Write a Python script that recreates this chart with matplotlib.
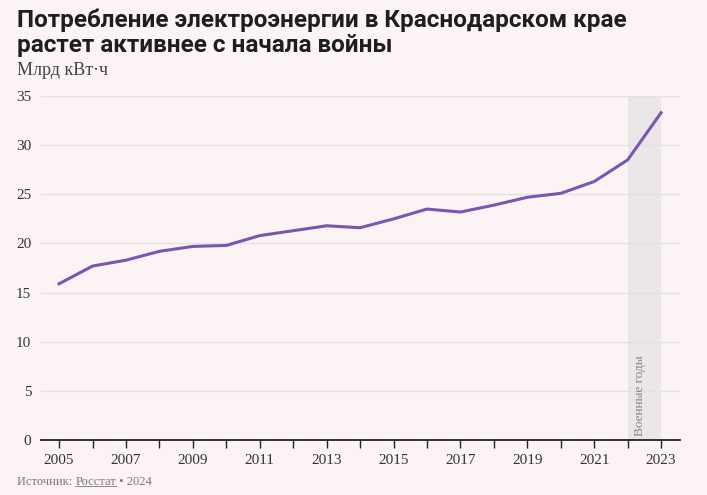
import matplotlib
matplotlib.use("Agg")
import matplotlib.pyplot as plt
from matplotlib.lines import Line2D

# данные: потребление электроэнергии, млрд кВт·ч
years = list(range(2005, 2024))
values = [15.9, 17.7, 18.3, 19.2, 19.7, 19.8, 20.8, 21.3, 21.8, 21.6,
          22.5, 23.5, 23.2, 23.9, 24.7, 25.1, 26.3, 28.5, 33.3]
yticks = [0, 5, 10, 15, 20, 25, 30, 35]
war_start, war_end = 2022, 2023

bg = "#fcf4f4"
purple = "#7b55b5"
serif = ["Liberation Serif", "DejaVu Serif"]

fig = plt.figure(figsize=(7.07, 4.95), dpi=100, facecolor=bg)
ax = fig.add_axes([0.058, 0.111, 0.904, 0.695], facecolor=bg)

ax.axvspan(war_start, war_end, ymin=0, ymax=1, color="#ebe6e7", lw=0, zorder=0)
for t in yticks[1:]:
    ax.axhline(t, color="#e6e0e1", lw=1, zorder=1)
ax.plot(years, values, color=purple, lw=2.2, solid_joinstyle="round", zorder=3)

ax.text(war_start + 0.38, 0.4, "Военные годы", rotation=90, ha="center", va="bottom",
        fontsize=9.5, color="#8a8585", family=serif)

ax.set_xlim(2004.46, 2023.57)
ax.set_ylim(0, 35)
ax.set_xticks(years)
ax.set_xticklabels([str(y) if y % 2 == 1 else "" for y in years])
ax.set_yticks(yticks)
ax.tick_params(axis="x", direction="out", length=6, width=1, color="#222222", pad=4,
               labelsize=11, labelcolor="#333333")
ax.tick_params(axis="y", length=0, pad=7, labelsize=11, labelcolor="#333333")
for lab in ax.get_xticklabels() + ax.get_yticklabels():
    lab.set_family(serif)

for s in ["top", "right", "left"]:
    ax.spines[s].set_visible(False)
ax.spines["bottom"].set_color("#222222")
ax.spines["bottom"].set_linewidth(1.3)
ax.spines["bottom"].set_bounds(2004.46, 2023.57)

title_font = ["Roboto", "DejaVu Sans"]
fig.text(0.024, 0.982, "Потребление электроэнергии в Краснодарском крае\nрастет активнее с начала войны",
         ha="left", va="top", fontsize=17.5, fontweight="bold", color="#1e1e1e",
         family=title_font, linespacing=1.1)
fig.text(0.024, 0.84, "Млрд кВт·ч", ha="left", va="bottom", fontsize=13,
         color="#444444", family=serif)

# подпись с подчеркнутым "Росстат"
fig.canvas.draw()
r = fig.canvas.get_renderer()
src_y = 0.014
t1 = fig.text(0.024, src_y, "Источник: ", fontsize=9, color="#777777", family=serif, va="bottom")
bb1 = t1.get_window_extent(r).transformed(fig.transFigure.inverted())
t2 = fig.text(bb1.x1, src_y, "Росстат", fontsize=9, color="#777777", family=serif, va="bottom")
bb2 = t2.get_window_extent(r).transformed(fig.transFigure.inverted())
fig.add_artist(Line2D([bb2.x0, bb2.x1], [bb2.y0 + 0.004, bb2.y0 + 0.004],
                      transform=fig.transFigure, color="#777777", lw=0.6))
fig.text(bb2.x1, src_y, " • 2024", fontsize=9, color="#777777", family=serif, va="bottom")

fig.savefig("out.png", dpi=100, facecolor=bg)
